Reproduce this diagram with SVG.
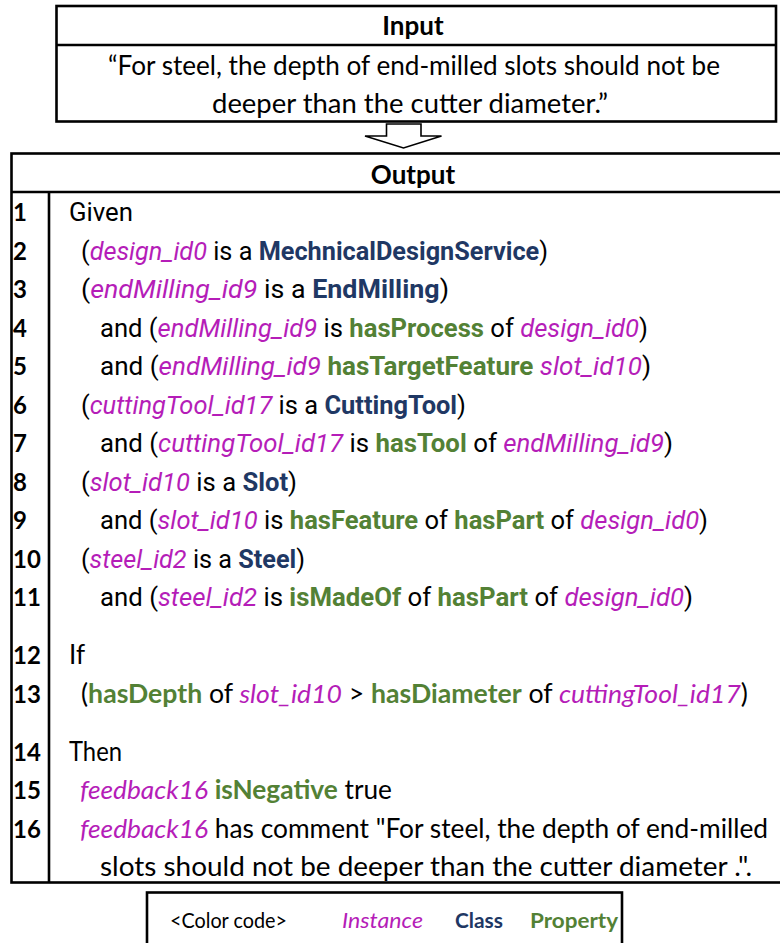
<svg xmlns="http://www.w3.org/2000/svg" width="780" height="943" viewBox="0 0 780 943">
<style>
.box{fill:#fff;stroke:#000;stroke-width:2.6}
.ln{stroke:#000;stroke-width:2.6}
.hd{font-family:Lato,"Liberation Sans",sans-serif;font-weight:bold;font-size:26px;fill:#000;text-anchor:middle}
.q{font-family:Lato,"Liberation Sans",sans-serif;font-size:26px;fill:#000}
.a{font-family:Roboto,"Liberation Sans",sans-serif;font-size:25px;fill:#000}
.b{font-family:Lato,"Liberation Sans",sans-serif;font-size:26px;fill:#000}
.n{font-family:Lato,"Liberation Sans",sans-serif;font-weight:bold;font-size:24px;fill:#000}
.lg{font-family:Lato,"Liberation Sans",sans-serif;font-size:21px;fill:#000}
.i{font-style:italic;fill:#B51DB8}
.c{font-weight:bold;fill:#1F3864}
.p{font-weight:bold;fill:#538135}
</style>
<g id="input-box">
<rect class="box" x="56.5" y="6" width="719.5" height="115.5"/>
<line class="ln" x1="56.5" y1="45" x2="776" y2="45"/>
<text class="hd" x="413" y="35">Input</text>
<text class="q" x="108" y="75" textLength="612" lengthAdjust="spacingAndGlyphs">“For steel, the depth of end-milled slots should not be</text>
<text class="q" x="212" y="113" textLength="396" lengthAdjust="spacingAndGlyphs">deeper than the cutter diameter.”</text>
</g>
<g id="connectors">
<polygon points="386.5,124 421,124 421,136 441.5,136 403.5,148 365,136 386.5,136" fill="#fff" stroke="#000" stroke-width="1.6" stroke-linejoin="miter"/>
</g>
<g id="output-box">
<rect class="box" x="11.5" y="153.5" width="810" height="729"/>
<line class="ln" x1="11.5" y1="192" x2="790" y2="192"/>
<line class="ln" x1="49" y1="192" x2="49" y2="882.5"/>
<text class="hd" x="413" y="184">Output</text>
<g id="line-numbers">
<text class="n" x="13" y="221">1</text>
<text class="n" x="13" y="260">2</text>
<text class="n" x="13" y="298">3</text>
<text class="n" x="13" y="337">4</text>
<text class="n" x="13" y="375">5</text>
<text class="n" x="13" y="414">6</text>
<text class="n" x="13" y="452">7</text>
<text class="n" x="13" y="491">8</text>
<text class="n" x="13" y="529">9</text>
<text class="n" x="13" y="568">10</text>
<text class="n" x="13" y="606">11</text>
<text class="n" x="13" y="664">12</text>
<text class="n" x="13" y="703">13</text>
<text class="n" x="13" y="761">14</text>
<text class="n" x="13" y="799">15</text>
<text class="n" x="13" y="838">16</text>
</g>
<g id="rule-text">
<text class="a" x="69" y="221" textLength="64" lengthAdjust="spacingAndGlyphs">Given</text>
<text class="a" x="81" y="260" textLength="467" lengthAdjust="spacingAndGlyphs">(<tspan class="i">design_id0</tspan> is a <tspan class="c">MechnicalDesignService</tspan>)</text>
<text class="a" x="81" y="298" textLength="368" lengthAdjust="spacingAndGlyphs">(<tspan class="i">endMilling_id9</tspan> is a <tspan class="c">EndMilling</tspan>)</text>
<text class="a" x="100" y="337" textLength="548" lengthAdjust="spacingAndGlyphs">and (<tspan class="i">endMilling_id9</tspan> is <tspan class="p">hasProcess</tspan> of <tspan class="i">design_id0</tspan>)</text>
<text class="a" x="100" y="375" textLength="551" lengthAdjust="spacingAndGlyphs">and (<tspan class="i">endMilling_id9</tspan> <tspan class="p">hasTargetFeature</tspan> <tspan class="i">slot_id10</tspan>)</text>
<text class="a" x="81" y="414" textLength="385" lengthAdjust="spacingAndGlyphs">(<tspan class="i">cuttingTool_id17</tspan> is a <tspan class="c">CuttingTool</tspan>)</text>
<text class="a" x="100" y="452" textLength="573" lengthAdjust="spacingAndGlyphs">and (<tspan class="i">cuttingTool_id17</tspan> is <tspan class="p">hasTool</tspan> of <tspan class="i">endMilling_id9</tspan>)</text>
<text class="a" x="81" y="491" textLength="216" lengthAdjust="spacingAndGlyphs">(<tspan class="i">slot_id10</tspan> is a <tspan class="c">Slot</tspan>)</text>
<text class="a" x="100" y="529" textLength="608" lengthAdjust="spacingAndGlyphs">and (<tspan class="i">slot_id10</tspan> is <tspan class="p">hasFeature</tspan> of <tspan class="p">hasPart</tspan> of <tspan class="i">design_id0</tspan>)</text>
<text class="a" x="81" y="568" textLength="224" lengthAdjust="spacingAndGlyphs">(<tspan class="i">steel_id2</tspan> is a <tspan class="c">Steel</tspan>)</text>
<text class="a" x="100" y="606" textLength="593" lengthAdjust="spacingAndGlyphs">and (<tspan class="i">steel_id2</tspan> is <tspan class="p">isMadeOf</tspan> of <tspan class="p">hasPart</tspan> of <tspan class="i">design_id0</tspan>)</text>
<text class="b" x="69" y="664">If</text>
<text class="b" x="81" y="703" textLength="667" lengthAdjust="spacingAndGlyphs">(<tspan class="p">hasDepth</tspan> of <tspan class="i">slot_id10</tspan> &gt; <tspan class="p">hasDiameter</tspan> of <tspan class="i">cuttingTool_id17</tspan>)</text>
<text class="b" x="69" y="761" textLength="53" lengthAdjust="spacingAndGlyphs">Then</text>
<text class="b" x="80" y="799" textLength="312" lengthAdjust="spacingAndGlyphs"><tspan class="i">feedback16</tspan> <tspan class="p">isNegative</tspan> true</text>
<text class="b" x="80" y="838" textLength="688" lengthAdjust="spacingAndGlyphs"><tspan class="i">feedback16</tspan> has comment "For steel, the depth of end-milled</text>
<text class="b" x="100" y="876" textLength="652" lengthAdjust="spacingAndGlyphs">slots should not be deeper than the cutter diameter .".</text>
</g>
</g>
<g id="legend">
<rect class="box" x="147" y="892.5" width="475" height="60"/>
<text class="lg" x="170" y="928" textLength="117" lengthAdjust="spacingAndGlyphs">&lt;Color code&gt;</text>
<text class="lg i" x="342" y="928" textLength="81" lengthAdjust="spacingAndGlyphs">Instance</text>
<text class="lg c" x="455" y="928" textLength="48" lengthAdjust="spacingAndGlyphs">Class</text>
<text class="lg p" x="530" y="928" textLength="88" lengthAdjust="spacingAndGlyphs">Property</text>
</g>
</svg>
